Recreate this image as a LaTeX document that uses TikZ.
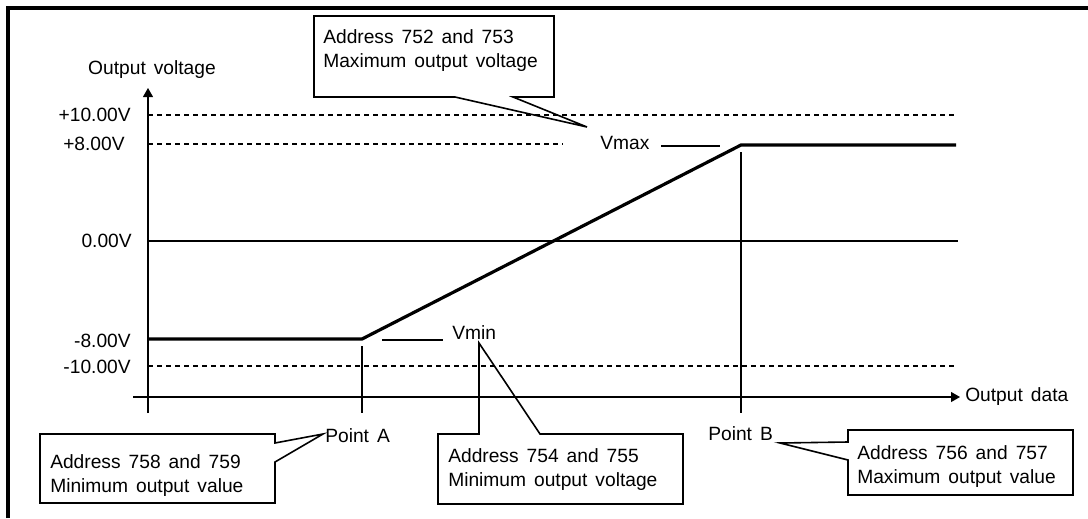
\documentclass[tikz,border=0pt]{standalone}
\usepackage{fontspec}
\setmainfont{Liberation Sans}[WordSpace=1.5]
\usetikzlibrary{arrows.meta}
\begin{document}
\begin{tikzpicture}[x=0.75pt,y=-0.75pt,
  txt/.style={font=\fontsize{14.4}{18}\selectfont, inner sep=0pt, align=left},
  axisline/.style={line width=0.8pt},
  guide/.style={line width=0.8pt, dash pattern=on 3.75pt off 3pt},
  heavy/.style={line width=2.4pt},
  callout/.style={line width=1.2pt, line join=miter},
  frameline/.style={line width=3pt, line join=miter},
  tip/.style={-{Triangle[length=6.75pt,width=7.5pt]}}]
\useasboundingbox (0,0) rectangle (1088,518);
% frame
\draw[frameline] (8,518) -- (8,8) -- (1088,8);
% axes
\coordinate (yb) at (148,413); \coordinate (yt) at (148,88);
\coordinate (xl) at (133,397); \coordinate (xr) at (960,397);
\draw[axisline,tip] (yb) -- (yt);
\draw[axisline,tip] (xl) -- (xr);
% guide lines
\draw[guide] (148,115) -- (958,115);
\draw[guide] (148,144) -- (563,144);
\draw[guide] (148,366) -- (958,366);
\draw[axisline] (148,241) -- (958,241);
% characteristic
\coordinate (pa) at (362,339); \coordinate (pb) at (741,145);
\draw[heavy] (148,339) -- (pa) -- (pb) -- (956,145);
% ticks
\draw[axisline] (362,346) -- (362,413);
\draw[axisline] (741,152) -- (741,413);
% short lines
\draw[axisline] (661,146) -- (720,146);
\draw[axisline] (382,340) -- (443,340);
% labels
\node[txt,anchor=center] (ov) at (152,70) {Output voltage};
\node[txt,anchor=west] (od) at (965,397) {Output data};
\node[txt,anchor=east] (l10) at (131,115) {+10.00V};
\node[txt,anchor=west] (l8) at (63,144) {+8.00V};
\node[txt,anchor=east] (l0) at (132,241) {0.00V};
\node[txt,anchor=east] (lm8) at (131,341) {-8.00V};
\node[txt,anchor=east] (lm10) at (131,367) {-10.00V};
\node[txt,anchor=west] (vmax) at (600,143) {Vmax};
\node[txt,anchor=west] (vmin) at (452,333) {Vmin};
\node[txt,anchor=west] (ptA) at (325,436) {Point A};
\node[txt,anchor=west] (ptB) at (708,434) {Point B};
% callouts
\draw[callout] (455,97) -- (314,97) -- (314,16) -- (554,16) -- (554,97) -- (513,97) -- (587,127) -- cycle;
\draw[callout] (275,462) -- (275,503) -- (40,503) -- (40,434) -- (275,434) -- (275,443) -- (323,434) -- cycle;
\draw[callout] (540,434) -- (683,434) -- (683,504) -- (438,504) -- (438,434) -- (479,434) -- (479,343) -- cycle;
\draw[callout] (848,460) -- (848,495) -- (1073,495) -- (1073,430) -- (848,430) -- (848,442) -- (780,443) -- cycle;
\node[txt,anchor=west] (tmax) at (323,51) {Address 752 and 753\\Maximum output voltage};
\node[txt,anchor=west] (tA) at (50,476) {Address 758 and 759\\Minimum output value};
\node[txt,anchor=west] (tmin) at (448,470) {Address 754 and 755\\Minimum output voltage};
\node[txt,anchor=west] (tB) at (857,467) {Address 756 and 757\\Maximum output value};
\end{tikzpicture}
\end{document}
